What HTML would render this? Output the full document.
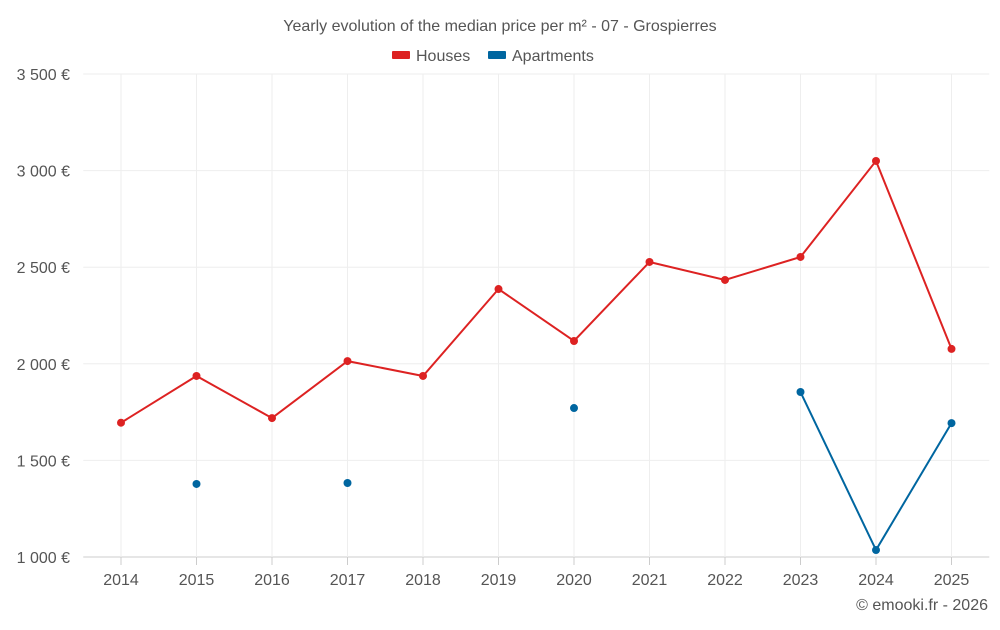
<!DOCTYPE html>
<html><head><meta charset="utf-8"><style>
body{margin:0;background:#fff;font-family:"Liberation Sans",sans-serif;}
svg text{font-family:"Liberation Sans",sans-serif;}
</style></head><body>
<svg id="chart" width="1000" height="625">
<text x="500" y="31" text-anchor="middle" font-size="16" fill="#555">Yearly evolution of the median price per m² - 07 - Grospierres</text>
<g>
<g><rect x="392" y="51" width="18" height="8" rx="1" fill="#dd2222"/><text x="416" y="61" font-size="16" fill="#555">Houses</text></g>
<g><rect x="488" y="51" width="18" height="8" rx="1" fill="#0066a0"/><text x="512" y="61" font-size="16" fill="#555">Apartments</text></g>
</g>
<g id="grid"></g><g id="axes"></g><g id="series"></g>
<text x="988" y="610" text-anchor="end" font-size="16" fill="#555">© emooki.fr - 2026</text>
</svg>
<script>
const years=[2014,2015,2016,2017,2018,2019,2020,2021,2022,2023,2024,2025];
const houses=[1695,1937,1719,2014,1937,2387,2118,2527,2434,2553,3050,2077];
const apartments=[null,1378,null,1383,null,null,1771,null,null,1854,1036,1693];
const yTicks=[1000,1500,2000,2500,3000,3500];
const yTickLabels=["1 000 €","1 500 €","2 000 €","2 500 €","3 000 €","3 500 €"];
const L=83.25,R=989.25,T=74,B=557;
const step=(R-L)/years.length;
const x=i=>L+step*(i+0.5);
const y=v=>B-(v-1000)/2500*(B-T);
const NS="http://www.w3.org/2000/svg";
function mk(tag,attrs,parent){const e=document.createElementNS(NS,tag);for(const k in attrs)e.setAttribute(k,attrs[k]);document.getElementById(parent).appendChild(e);return e;}
yTicks.forEach((t,i)=>{
 const g=mk('line',{x1:L,x2:R,y1:y(t),y2:y(t),stroke:i==0?'#ccc':'#eee'},'grid');
 
 
 const tx=mk('text',{x:70,y:y(t)+6,'text-anchor':'end','font-size':16,fill:'#555'},'axes');
 tx.textContent=yTickLabels[i];
 
 
});
years.forEach((yr,i)=>{
 const g=mk('line',{x1:x(i),x2:x(i),y1:T,y2:B,stroke:'#eee'},'grid');
 
 
 const tk=mk('line',{x1:x(i),x2:x(i),y1:B,y2:B+8,stroke:'#ccc'},'axes');
 
 
 const tx=mk('text',{x:x(i),y:585,'text-anchor':'middle','font-size':16,fill:'#555'},'axes');
 tx.textContent=yr;
 
 
});
function draw(vals,color,name){
 let d='',pen=false;
 vals.forEach((v,i)=>{if(v==null){pen=false;return;}d+=(pen?'L':'M')+x(i)+','+y(v);pen=true;});
 const p=mk('path',{d:d,fill:'none',stroke:color,'stroke-width':2},'series');
 
 
 vals.forEach((v,i)=>{if(v==null)return;
  const c=mk('circle',{cx:x(i),cy:y(v),r:4,fill:color},'series');
  
  
 });
}
draw(houses,'#dd2222','houses');
draw(apartments,'#0066a0','apartments');
</script>
</body></html>
